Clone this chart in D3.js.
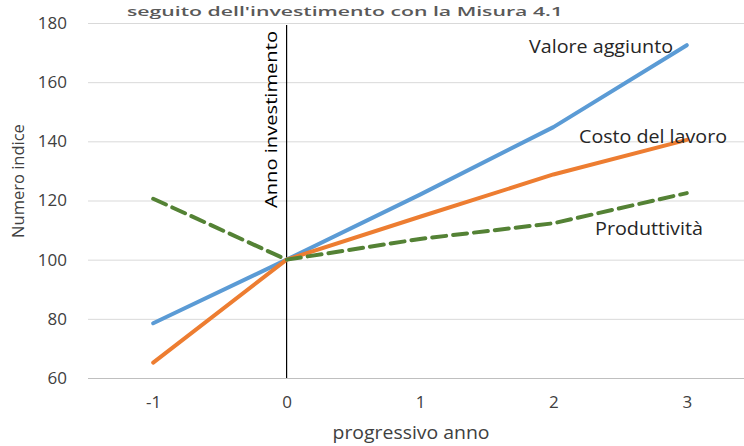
<!DOCTYPE html>
<html><head><meta charset="utf-8">
<script src="https://cdn.jsdelivr.net/npm/d3@7"></script>
<style>body{margin:0;background:#fff}svg{display:block}text{font-family:"Open Sans",sans-serif;fill:#404040}</style>
</head><body>
<svg id="c" width="744" height="446"></svg>
<script>
const years = ["-1","0","1","2","3"];
const valoreAggiunto = [78.5, 100, 122, 144.8, 172.5];
const costoLavoro = [65.2, 100, 114.5, 128.8, 140.5];
const produttivita = [120.6, 100, 107, 112.3, 122.5];
const yTicks = [60, 80, 100, 120, 140, 160, 180];
const seriesNames = ["Valore aggiunto", "Costo del lavoro", "Produttività"];
const titleText = "seguito dell'investimento con la Misura 4.1";
const eventLabel = "Anno investimento";
const xTitle = "progressivo anno";
const yTitle = "Numero indice";

const svg = d3.select("#c");
const x = d3.scalePoint().domain(years).range([86.5, 753.5]).padding(0.5);
const y = d3.scaleLinear().domain([60, 180]).range([378, 23]);

// title (kept fully visible at the top)
svg.append("text").attr("x", 127).attr("y", 16).attr("font-size", 13).attr("font-weight", 600)
  .attr("textLength", 436).attr("lengthAdjust", "spacingAndGlyphs").style("fill", "#595959").text(titleText);

// gridlines
const yAxis = d3.axisLeft(y).tickValues(yTicks).tickSize(-(744 - 88)).tickPadding(21);
const gy = svg.append("g").attr("transform", "translate(88,0)").call(yAxis);
gy.select(".domain").remove();
gy.selectAll(".tick line").attr("stroke", "#d9d9d9").attr("stroke-width", 1);
gy.selectAll(".tick text").attr("font-size", 17).style("font-family", "Open Sans").attr("fill", "#404040");
gy.selectAll(".tick").filter(d => d === 60).select("line").attr("stroke", "#bfbfbf");

// x axis
const xAxis = d3.axisBottom(x).tickSize(0).tickPadding(18);
const gx = svg.append("g").attr("transform", "translate(0,378)").call(xAxis);
gx.select(".domain").remove();
gx.selectAll(".tick text").attr("font-size", 17).style("font-family", "Open Sans").attr("fill", "#404040");

// vertical investment-year line
svg.append("line").attr("x1", x("0")).attr("x2", x("0")).attr("y1", y(180) + 2).attr("y2", y(60))
  .attr("stroke", "#000").attr("stroke-width", 1.2);
svg.append("text").attr("transform", `translate(${x("0") - 10},208) rotate(-90)`)
  .attr("font-size", 17).style("fill", "#000").attr("textLength", 177).attr("lengthAdjust", "spacingAndGlyphs").text(eventLabel);

// axis titles
svg.append("text").attr("x", 411).attr("y", 439).attr("text-anchor", "middle").attr("font-size", 17.5)
  .attr("textLength", 157).attr("lengthAdjust", "spacingAndGlyphs").text(xTitle);
svg.append("text").attr("transform", "translate(24,181) rotate(-90)").attr("text-anchor", "middle").attr("font-size", 16.5).text(yTitle);

// lines
const line = d3.line().x((d, i) => x(years[i])).y(d => y(d));
const series = [
  {v: valoreAggiunto, c: "#5b9bd5", dash: null},
  {v: costoLavoro, c: "#ed7d31", dash: null},
  {v: produttivita, c: "#548235", dash: "14,7"}
];
series.forEach(s => {
  svg.append("path").datum(s.v).attr("d", line).attr("fill", "none").attr("stroke", s.c)
    .attr("stroke-width", 4).attr("stroke-linejoin", "round").attr("stroke-linecap", "round")
    .attr("stroke-dasharray", s.dash);
});

// series labels
const labelPos = [[529, 53, 144], [579, 143, 148], [595, 235, 108]];
seriesNames.forEach((n, i) => {
  svg.append("text").attr("x", labelPos[i][0]).attr("y", labelPos[i][1]).attr("font-size", 17.5)
    .attr("textLength", labelPos[i][2]).attr("lengthAdjust", "spacingAndGlyphs").style("fill", "#262626").text(n);
});
</script>
</body></html>
